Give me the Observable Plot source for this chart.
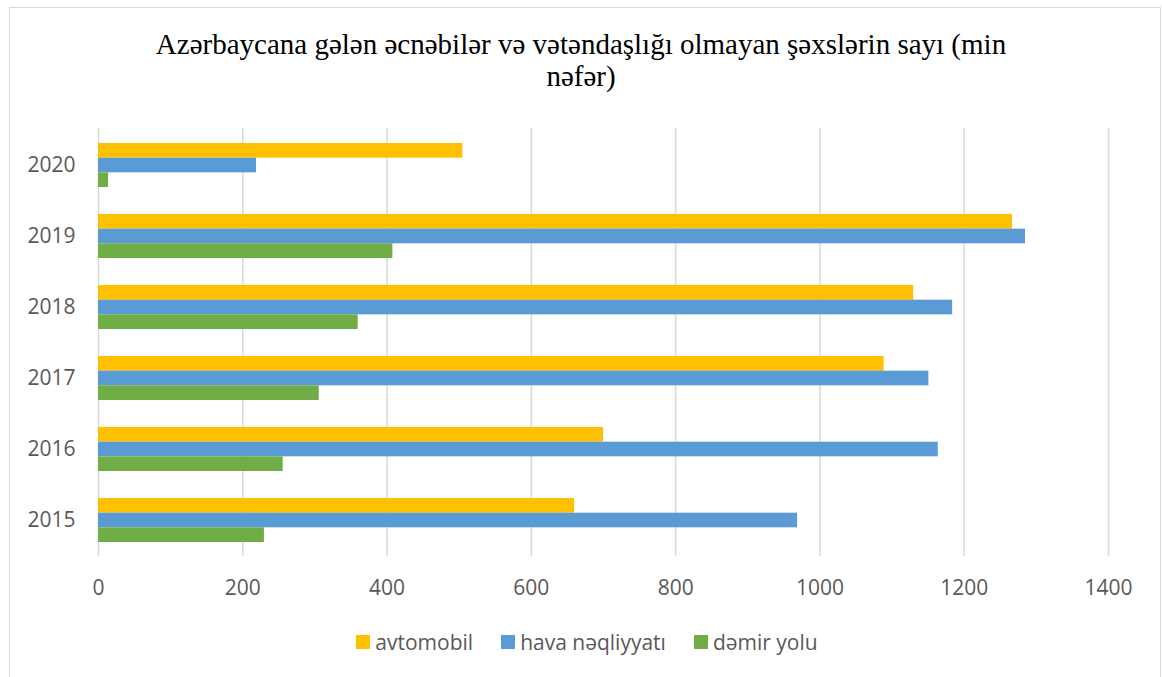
<!DOCTYPE html>
<html>
<head>
<meta charset="utf-8">
<script src="https://cdn.jsdelivr.net/npm/d3@7"></script>
<script src="https://cdn.jsdelivr.net/npm/@observablehq/plot@0.6"></script>
<style>
  html, body { margin: 0; padding: 0; background: #fff; }
  body { width: 1162px; height: 677px; position: relative; overflow: hidden; }
  #frame { position: absolute; left: 9px; top: 7px; width: 1152px; height: 720px; box-sizing: border-box; border: 1.5px solid #d9d9d9; }
  #title { position: absolute; left: 0; top: 28px; width: 1162px; text-align: center; font-family: "Liberation Serif", "Times New Roman", serif; font-size: 29px; line-height: 32px; color: #000; }
  #chart { position: absolute; left: 0; top: 100px; }
  #legend { position: absolute; left: 12px; top: 628px; width: 1150px; display: flex; justify-content: center; align-items: center; font-family: "Open Sans", sans-serif; font-size: 21px; color: #595959; }
  .item { display: flex; align-items: center; margin: 0 14px; }
  .sw { width: 14px; height: 14px; margin-right: 5px; }
</style>
</head>
<body>
<div id="frame"></div>
<div id="title">Azərbaycana gələn əcnəbilər və vətəndaşlığı olmayan şəxslərin sayı (min<br>nəfər)</div>
<div id="chart"></div>
<div id="legend"></div>
<script>
// ---- data ----
const years = ["2015", "2016", "2017", "2018", "2019", "2020"];
const seriesNames = ["avtomobil", "hava nəqliyyatı", "dəmir yolu"];
const seriesColors = ["#FFC000", "#5B9BD5", "#70AD47"];
const avtomobil = [660, 700, 1089, 1130, 1267, 505];
const havaNeqliyyati = [969, 1164, 1151, 1184, 1285, 219];
const demirYolu = [230, 256, 306, 360, 408, 14];
const xTicks = [0, 200, 400, 600, 800, 1000, 1200, 1400];

const seriesValues = [avtomobil, havaNeqliyyati, demirYolu];

// ---- layout ----
const width = 1162, height = 500;
const marginTop = 28, marginBottom = 44, marginLeft = 98, marginRight = 54;
const paddingInner = 0.383, paddingOuter = paddingInner / 2;
const plotH = height - marginTop - marginBottom;
const step = plotH / years.length;
const bw = step * (1 - paddingInner);
const sub = bw / 3;

const barMarks = seriesNames.map((name, i) => {
  const rows = years.map((y, j) => ({year: y, value: seriesValues[i][j]}));
  return Plot.barX(rows, {
    x: "value", y: "year",
    fill: seriesColors[i],
    insetTop: i * sub,
    insetBottom: (2 - i) * sub
  });
});

const chart = Plot.plot({
  width, height, marginTop, marginBottom, marginLeft, marginRight,
  style: {fontFamily: "Open Sans, sans-serif", fontSize: "21px", color: "#595959", background: "transparent"},
  x: {domain: [0, 1400], ticks: xTicks, tickSize: 0, tickPadding: 24, label: null, tickFormat: d => String(d)},
  y: {domain: years.slice().reverse(), paddingInner, paddingOuter, tickSize: 0, tickPadding: 23, label: null},
  marks: [
    Plot.ruleX(xTicks, {stroke: "#d9d9d9", strokeWidth: 1.5}),
    ...barMarks
  ]
});
document.getElementById("chart").appendChild(chart);

const legend = document.getElementById("legend");
seriesNames.forEach((name, i) => {
  const item = document.createElement("div");
  item.className = "item";
  const sw = document.createElement("div");
  sw.className = "sw";
  sw.style.background = seriesColors[i];
  const t = document.createElement("span");
  t.textContent = name;
  item.appendChild(sw); item.appendChild(t);
  legend.appendChild(item);
});
</script>
</body>
</html>
